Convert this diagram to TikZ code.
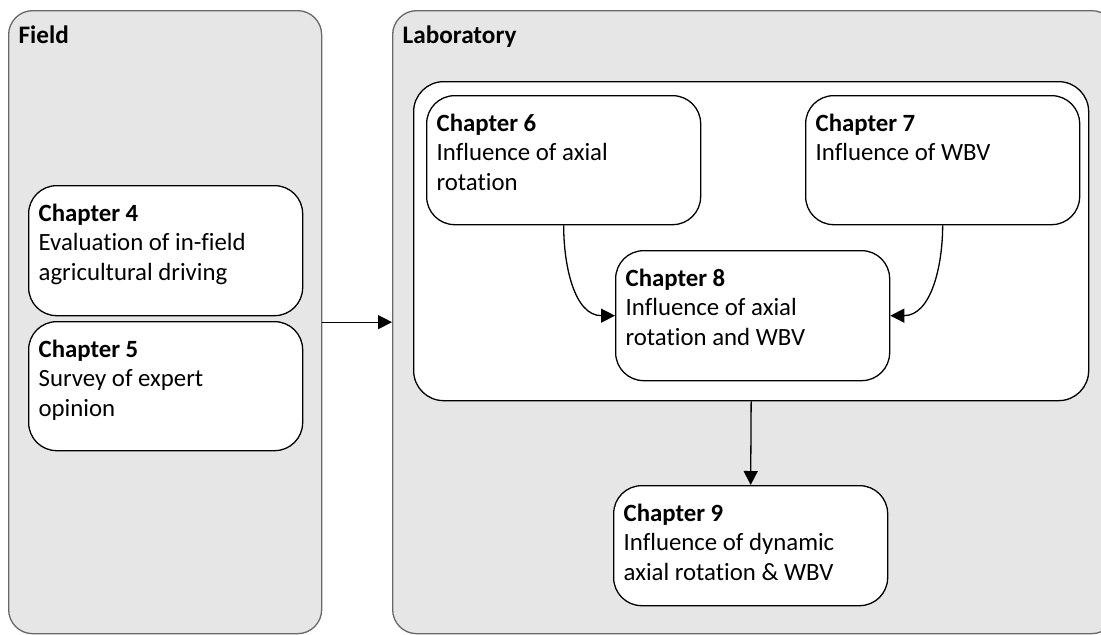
\documentclass[tikz,border=0pt]{standalone}
\usepackage{fontspec}
\setmainfont[Ligatures={NoCommon}]{Carlito}
\usetikzlibrary{arrows.meta}
\definecolor{panelgray}{RGB}{230,230,230}
\definecolor{edgegray}{RGB}{105,105,105}
\newcommand{\chtext}[3]{\parbox[c][#1][t]{127pt}{\raggedright\rule{0pt}{18pt}\textbf{#2}\\#3}}
\tikzset{
  panel/.style={draw=edgegray, fill=panelgray, rounded corners=12pt, anchor=north west, inner sep=0pt},
  panelhead/.style={anchor=base west, inner sep=0pt, font=\fontsize{12.6pt}{14.6pt}\selectfont\bfseries},
  inbox/.style={draw, fill=white, rounded corners=15pt, anchor=north west, inner sep=0pt},
  chapbox/.style={draw, fill=white, rounded corners=14pt, anchor=north west, minimum width=137pt,
    inner xsep=5pt, inner ysep=0pt, font=\fontsize{12.4pt}{14.6pt}\selectfont},
  arr/.style={-{Triangle[length=7pt,width=7pt]}}
}
\begin{document}
\begin{tikzpicture}[x=0.5pt, y=-0.5pt, line width=0.65pt]
\useasboundingbox (0,0) rectangle (1101,634);
\clip (0,0) rectangle (1101,634);
\fill[white] (0,0) rectangle (1101,634);
% the two panels
\node[panel, minimum width=156.5pt, minimum height=311.5pt] (field) at (8,10) {};
\node[panel, minimum width=361.5pt, minimum height=311.5pt] (lab) at (392,10) {};
\node[panelhead] (fieldhead) at (18,43) {Field};
\node[panelhead] (labhead) at (402,43) {Laboratory};
\node[inbox, minimum width=337.5pt, minimum height=159.5pt] (labin) at (413,81) {};
% chapters
\node[chapbox] (ch4) at (28,185) {\chtext{65pt}{Chapter 4}{Evaluation of in-field\\agricultural driving}};
\node[chapbox] (ch5) at (28,321) {\chtext{64.5pt}{Chapter 5}{Survey of expert\\opinion}};
\node[chapbox] (ch6) at (426,95) {\chtext{64.5pt}{Chapter 6}{Influence of axial\\rotation}};
\node[chapbox] (ch7) at (805,95) {\chtext{64.5pt}{Chapter 7}{Influence of WBV}};
\node[chapbox] (ch8) at (615,250) {\chtext{65pt}{Chapter 8}{Influence of axial\\rotation and WBV}};
\node[chapbox] (ch9) at (613,485) {\chtext{60pt}{Chapter 9}{Influence of dynamic\\axial rotation \& WBV}};
% links
\draw[arr] (field.east) -- (field.east -| lab.west);
\draw[arr] (ch6.south) to[out=-90, in=180] (ch8.west);
\draw[arr] (ch7.south) to[out=-90, in=0] (ch8.east);
\draw[arr] (labin.south) -- (ch9.north);
\end{tikzpicture}
\end{document}
